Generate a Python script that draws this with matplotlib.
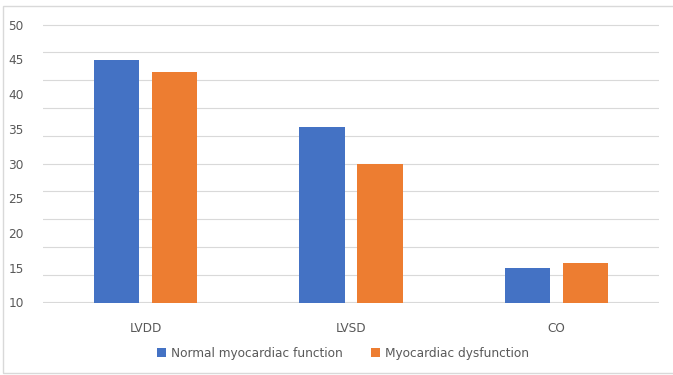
import numpy as np
import matplotlib
matplotlib.use('Agg')
import matplotlib.pyplot as plt
from matplotlib.patches import Rectangle

categories = ['LVDD', 'LVSD', 'CO']
normal = [44.9, 35.3, 15.0]
dysfunction = [43.2, 30.0, 15.7]
series_names = ['Normal myocardiac function', 'Myocardiac dysfunction']
y_ticks = [10, 15, 20, 25, 30, 35, 40, 45, 50]

COLORS = {'normal': '#4472C4', 'dys': '#ED7D31'}
TEXT = '#595959'
GRID = '#d9d9d9'
FS = 8.7

plt.rcParams['font.family'] = ['DejaVu Sans']

fig = plt.figure(figsize=(6.73, 3.75), dpi=100)
ax = fig.add_axes([43 / 673, 1 - 303 / 375, (659 - 43) / 673, (303 - 24) / 375])

x = np.arange(len(categories))
w, off = 0.22, 0.141
ax.bar(x - off, normal, w, color=COLORS['normal'], label=series_names[0], zorder=3)
ax.bar(x + off, dysfunction, w, color=COLORS['dys'], label=series_names[1], zorder=3)

ax.set_xlim(-0.5, len(categories) - 0.5)
ax.set_ylim(y_ticks[0] - 0.1, y_ticks[-1] + 0.1)
ax.set_yticks(y_ticks)
ax.set_yticklabels([str(v) for v in y_ticks])
# horizontal grid runs on its own 11-line spacing, independent of the labels
for gy in np.linspace(y_ticks[0], y_ticks[-1], 11):
    ax.axhline(gy, color=GRID, lw=0.8, zorder=0)
ax.tick_params(axis='y', length=0, pad=14, labelsize=FS, labelcolor=TEXT)
ax.set_xticks(x)
ax.set_xticklabels(categories)
ax.tick_params(axis='x', length=0, pad=14, labelsize=FS, labelcolor=TEXT)
for s in ax.spines.values():
    s.set_visible(False)

leg = fig.legend(loc='center', bbox_to_anchor=(343 / 673, 1 - 353 / 375), ncol=2,
                 frameon=False, fontsize=FS, handlelength=0.7, handleheight=0.7,
                 handletextpad=0.4, columnspacing=2.4)
for t in leg.get_texts():
    t.set_color(TEXT)

# light outer frame around the chart area
fig.patches.append(Rectangle((3 / 673, 2 / 375), 1.0, 1 - 8 / 375, transform=fig.transFigure,
                             fill=False, edgecolor=GRID, lw=1.0))

fig.savefig('out.png', dpi=100)
